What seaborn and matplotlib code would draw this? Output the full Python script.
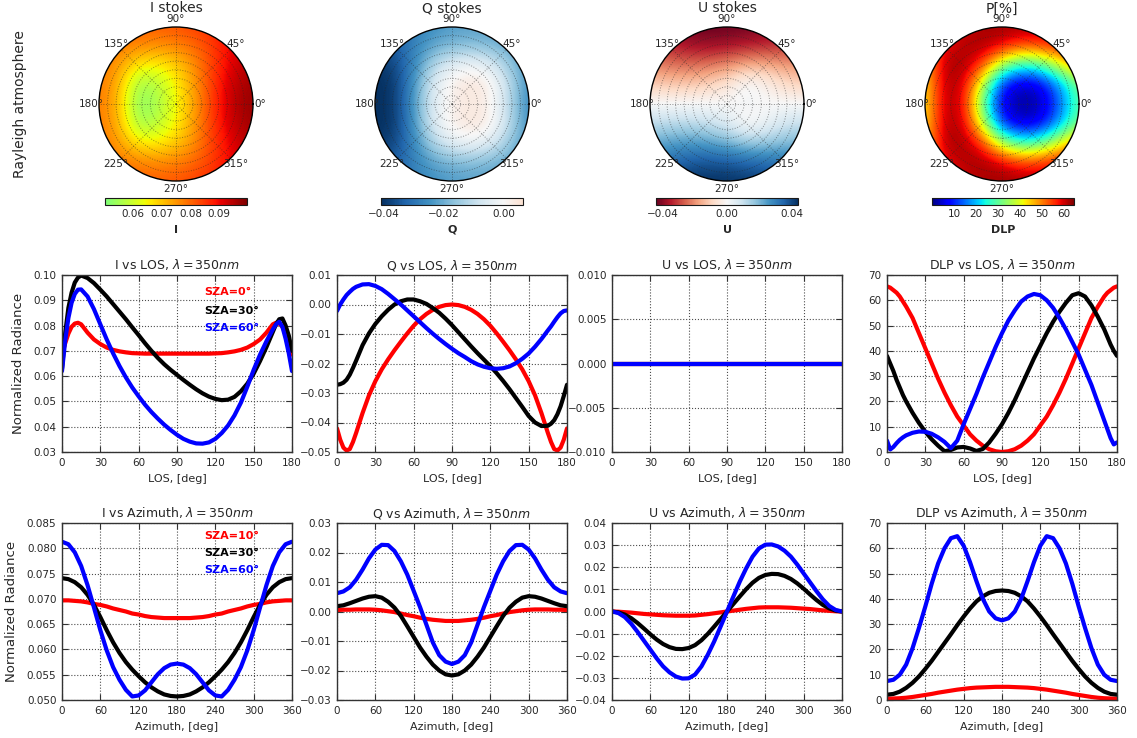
import numpy as np
import matplotlib
matplotlib.use("Agg")
import matplotlib.pyplot as plt
import seaborn as sns
from matplotlib.colors import LinearSegmentedColormap, Normalize
from matplotlib.patches import Circle

# ---------------------------------------------------------------- data
sza_labels_los = ["SZA=0°", "SZA=30°", "SZA=60°"]
sza_labels_az = ["SZA=10°", "SZA=30°", "SZA=60°"]
line_colors = ["#ff0000", "#000000", "#0000ff"]

# line-of-sight angle, degrees
los_deg = [0, 2.5, 5, 7.5, 10, 12.5, 15, 20, 25, 30, 35, 40, 45, 50, 55, 60, 65, 70,
           75, 80, 85, 90, 95, 100, 105, 110, 115, 120, 125, 130, 135, 140, 145, 150,
           155, 160, 165, 167.5, 170, 172.5, 175, 177.5, 180]

i_los_sza0 = [0.0685, 0.0730, 0.0768, 0.0795, 0.0808, 0.0811, 0.0805, 0.0772, 0.0745,
              0.0727, 0.0713, 0.0704, 0.0698, 0.0694, 0.0691, 0.0690, 0.0689, 0.0689,
              0.0689, 0.0689, 0.0689, 0.0689, 0.0689, 0.0689, 0.0689, 0.0689, 0.0689,
              0.0690, 0.0691, 0.0694, 0.0698, 0.0704, 0.0713, 0.0727, 0.0745, 0.0772,
              0.0805, 0.0811, 0.0808, 0.0795, 0.0768, 0.0730, 0.0685]
i_los_sza30 = [0.0630, 0.0770, 0.0870, 0.0930, 0.0970, 0.0990, 0.0998, 0.0988, 0.0968,
               0.0942, 0.0915, 0.0885, 0.0855, 0.0825, 0.0793, 0.0762, 0.0730, 0.0700,
               0.0672, 0.0647, 0.0625, 0.0605, 0.0585, 0.0566, 0.0548, 0.0532, 0.0519,
               0.0510, 0.0505, 0.0507, 0.0518, 0.0540, 0.0570, 0.0610, 0.0660, 0.0715,
               0.0775, 0.0805, 0.0825, 0.0828, 0.0800, 0.0760, 0.0700]
i_los_sza60 = [0.0620, 0.0740, 0.0830, 0.0890, 0.0925, 0.0942, 0.0943, 0.0915, 0.0865,
               0.0805, 0.0745, 0.0690, 0.0640, 0.0595, 0.0555, 0.0520, 0.0487, 0.0458,
               0.0432, 0.0408, 0.0387, 0.0368, 0.0352, 0.0341, 0.0334, 0.0333, 0.0338,
               0.0352, 0.0375, 0.0405, 0.0445, 0.0495, 0.0558, 0.0625, 0.0685, 0.0738,
               0.0785, 0.0805, 0.0815, 0.0795, 0.0748, 0.0690, 0.0620]

q_los_sza0 = [-0.0420, -0.0458, -0.0485, -0.0495, -0.0490, -0.0466, -0.0435, -0.0368,
              -0.0308, -0.0260, -0.0220, -0.0186, -0.0155, -0.0126, -0.0098, -0.0072,
              -0.0050, -0.0032, -0.0018, -0.0008, -0.0002, 0.0000, -0.0002, -0.0008,
              -0.0018, -0.0032, -0.0050, -0.0072, -0.0098, -0.0126, -0.0155, -0.0186,
              -0.0220, -0.0260, -0.0308, -0.0368, -0.0435, -0.0466, -0.0490, -0.0495,
              -0.0485, -0.0458, -0.0420]
q_los_sza30 = [-0.0272, -0.0270, -0.0265, -0.0255, -0.0238, -0.0215, -0.0190, -0.0138,
               -0.0098, -0.0066, -0.0040, -0.0018, 0.0000, 0.0011, 0.0017, 0.0017,
               0.0011, 0.0002, -0.0012, -0.0028, -0.0048, -0.0070, -0.0094, -0.0118,
               -0.0142, -0.0165, -0.0187, -0.0209, -0.0233, -0.0259, -0.0287, -0.0317,
               -0.0347, -0.0378, -0.0400, -0.0412, -0.0411, -0.0404, -0.0392, -0.0372,
               -0.0345, -0.0310, -0.0272]
q_los_sza60 = [-0.0022, 0.0000, 0.0017, 0.0032, 0.0043, 0.0053, 0.0060, 0.0068, 0.0069,
               0.0063, 0.0052, 0.0036, 0.0018, 0.0000, -0.0020, -0.0040, -0.0060,
               -0.0080, -0.0099, -0.0117, -0.0134, -0.0150, -0.0165, -0.0178, -0.0192,
               -0.0203, -0.0211, -0.0216, -0.0218, -0.0216, -0.0210, -0.0199, -0.0184,
               -0.0166, -0.0143, -0.0117, -0.0088, -0.0074, -0.0058, -0.0043, -0.0030,
               -0.0022, -0.0020]

# U is identically zero along the principal plane
u_los_deg = [0, 180]
u_los_sza0 = [0.0, 0.0]
u_los_sza30 = [0.0, 0.0]
u_los_sza60 = [0.0, 0.0]

dlp_los_sza0 = [65.5, 65.0, 64.0, 63.0, 61.5, 59.5, 57.5, 53.0, 47.0, 41.0, 35.0, 29.0,
                23.5, 18.5, 14.0, 10.5, 7.0, 4.5, 2.5, 1.1, 0.3, 0.0, 0.3, 1.1, 2.5, 4.5,
                7.0, 10.5, 14.0, 18.5, 23.5, 29.0, 35.0, 41.0, 47.0, 53.0, 57.5, 59.5,
                61.5, 63.0, 64.0, 65.0, 65.5]
dlp_los_sza30 = [38.0, 35.0, 32.0, 28.5, 25.5, 22.5, 20.0, 15.5, 11.5, 8.0, 5.0, 2.5,
                 0.3, 0.8, 1.8, 2.0, 1.4, 0.4, 1.2, 3.8, 7.2, 11.0, 15.5, 20.5, 26.0,
                 31.5, 37.0, 42.0, 47.0, 51.5, 55.5, 59.0, 62.0, 62.8, 61.5, 58.0, 53.5,
                 51.0, 48.5, 45.5, 42.5, 40.0, 38.0]
dlp_los_sza60 = [4.5, 1.0, 2.0, 3.5, 4.8, 5.8, 6.6, 7.6, 8.1, 8.0, 7.2, 5.8, 4.0, 1.5,
                 4.5, 11.0, 17.0, 23.0, 29.5, 35.5, 41.5, 47.0, 52.0, 56.0, 59.5, 61.5,
                 62.5, 62.0, 60.0, 57.0, 53.0, 48.5, 43.5, 38.5, 32.5, 26.5, 19.5, 16.0,
                 12.5, 9.0, 5.5, 3.0, 3.8]

# relative azimuth, degrees
az_deg = [0, 10, 20, 30, 40, 50, 60, 70, 80, 90, 100, 110, 120, 130, 140, 150, 160, 170,
          180, 190, 200, 210, 220, 230, 240, 250, 260, 270, 280, 290, 300, 310, 320, 330,
          340, 350, 360]

i_az_sza10 = [0.0697, 0.0697, 0.0696, 0.0695, 0.0693, 0.0690, 0.0688, 0.0685, 0.0681,
              0.0678, 0.0675, 0.0671, 0.0669, 0.0666, 0.0664, 0.0663, 0.0662, 0.0662,
              0.0662, 0.0662, 0.0662, 0.0663, 0.0664, 0.0666, 0.0669, 0.0671, 0.0675,
              0.0678, 0.0681, 0.0685, 0.0688, 0.0690, 0.0693, 0.0695, 0.0696, 0.0697,
              0.0697]
i_az_sza30 = [0.0741, 0.0739, 0.0733, 0.0723, 0.0708, 0.0688, 0.0664, 0.0638, 0.0614,
              0.0593, 0.0575, 0.0560, 0.0547, 0.0535, 0.0525, 0.0517, 0.0511, 0.0508,
              0.0507, 0.0508, 0.0511, 0.0517, 0.0525, 0.0535, 0.0547, 0.0560, 0.0575,
              0.0593, 0.0614, 0.0638, 0.0664, 0.0688, 0.0708, 0.0723, 0.0733, 0.0739,
              0.0741]
i_az_sza60 = [0.0813, 0.0808, 0.0792, 0.0765, 0.0727, 0.0683, 0.0638, 0.0598, 0.0565,
              0.0540, 0.0520, 0.0507, 0.0509, 0.0519, 0.0535, 0.0551, 0.0563, 0.0570,
              0.0572, 0.0570, 0.0563, 0.0551, 0.0535, 0.0519, 0.0509, 0.0507, 0.0520,
              0.0540, 0.0565, 0.0598, 0.0638, 0.0683, 0.0727, 0.0765, 0.0792, 0.0808,
              0.0813]

q_az_sza10 = [0.0005, 0.0006, 0.0006, 0.0007, 0.0007, 0.0007, 0.0006, 0.0004, 0.0001,
              -0.0002, -0.0007, -0.0012, -0.0016, -0.0021, -0.0025, -0.0028, -0.0030,
              -0.0032, -0.0032, -0.0032, -0.0030, -0.0028, -0.0025, -0.0021, -0.0016,
              -0.0012, -0.0007, -0.0002, 0.0001, 0.0004, 0.0006, 0.0007, 0.0007, 0.0007,
              0.0006, 0.0006, 0.0005]
q_az_sza30 = [0.0018, 0.0021, 0.0028, 0.0036, 0.0044, 0.0050, 0.0052, 0.0047, 0.0033,
              0.0013, -0.0015, -0.0050, -0.0086, -0.0122, -0.0153, -0.0180, -0.0200,
              -0.0213, -0.0217, -0.0213, -0.0200, -0.0180, -0.0153, -0.0122, -0.0086,
              -0.0050, -0.0015, 0.0013, 0.0033, 0.0047, 0.0052, 0.0050, 0.0044, 0.0036,
              0.0028, 0.0021, 0.0018]
q_az_sza60 = [0.0062, 0.0068, 0.0082, 0.0108, 0.0142, 0.0180, 0.0210, 0.0226, 0.0225,
              0.0205, 0.0170, 0.0125, 0.0070, 0.0015, -0.0045, -0.0105, -0.0148, -0.0170,
              -0.0178, -0.0170, -0.0148, -0.0105, -0.0045, 0.0015, 0.0070, 0.0125,
              0.0170, 0.0205, 0.0225, 0.0226, 0.0210, 0.0180, 0.0142, 0.0108, 0.0082,
              0.0068, 0.0062]

u_az_sza10 = [0.0, -0.0001, -0.0003, -0.0005, -0.0008, -0.0011, -0.0013, -0.0015, -0.0017,
              -0.0018, -0.0019, -0.0019, -0.0019, -0.0018, -0.0015, -0.0012, -0.0008,
              -0.0004, 0.0, 0.0004, 0.0008, 0.0012, 0.0015, 0.0018, 0.0019, 0.0019,
              0.0019, 0.0018, 0.0017, 0.0015, 0.0013, 0.0011, 0.0008, 0.0005, 0.0003,
              0.0001, 0.0]
u_az_sza30 = [0.0, -0.0004, -0.0014, -0.0030, -0.0052, -0.0077, -0.0103, -0.0127, -0.0147,
              -0.0161, -0.0169, -0.0170, -0.0165, -0.0152, -0.0130, -0.0101, -0.0068,
              -0.0034, 0.0, 0.0034, 0.0068, 0.0101, 0.0130, 0.0152, 0.0165, 0.0170,
              0.0169, 0.0161, 0.0147, 0.0127, 0.0103, 0.0077, 0.0052, 0.0030, 0.0014,
              0.0004, 0.0]
u_az_sza60 = [0.0, -0.0007, -0.0025, -0.0055, -0.0092, -0.0132, -0.0172, -0.0212, -0.0248,
              -0.0275, -0.0294, -0.0303, -0.0302, -0.0285, -0.0248, -0.0195, -0.0135,
              -0.0068, 0.0, 0.0068, 0.0135, 0.0195, 0.0248, 0.0285, 0.0302, 0.0303,
              0.0294, 0.0275, 0.0248, 0.0212, 0.0172, 0.0132, 0.0092, 0.0055, 0.0025,
              0.0007, 0.0]

dlp_az_sza10 = [0.5, 0.6, 0.7, 0.9, 1.2, 1.6, 2.0, 2.4, 2.9, 3.3, 3.7, 4.1, 4.4, 4.7, 4.9,
                5.0, 5.1, 5.2, 5.2, 5.2, 5.1, 5.0, 4.9, 4.7, 4.4, 4.1, 3.7, 3.3, 2.9, 2.4,
                2.0, 1.6, 1.2, 0.9, 0.7, 0.6, 0.5]
dlp_az_sza30 = [2.1, 2.4, 3.3, 4.8, 6.8, 9.3, 12.3, 15.5, 19.0, 22.5, 26.0, 29.6, 33.0,
                36.2, 39.0, 41.0, 42.4, 43.1, 43.3, 43.1, 42.4, 41.0, 39.0, 36.2, 33.0,
                29.6, 26.0, 22.5, 19.0, 15.5, 12.3, 9.3, 6.8, 4.8, 3.3, 2.4, 2.1]
dlp_az_sza60 = [7.5, 8.0, 10.0, 14.0, 20.5, 28.5, 37.0, 46.0, 54.0, 60.0, 64.0, 64.8,
                61.0, 54.5, 47.0, 40.0, 35.0, 32.3, 31.5, 32.3, 35.0, 40.0, 47.0, 54.5,
                61.0, 64.8, 64.0, 60.0, 54.0, 46.0, 37.0, 28.5, 20.5, 14.0, 10.0, 8.0, 7.5]

# Sky maps (SZA=30) sampled on a 9x9 grid, x and y from -1 to 1,
# rows listed from top (y=+1) to bottom (y=-1)
i_map = [
    [0.081, 0.081, 0.081, 0.081, 0.082, 0.084, 0.087, 0.091, 0.095],
    [0.079, 0.078, 0.077, 0.076, 0.077, 0.080, 0.085, 0.091, 0.095],
    [0.078, 0.075, 0.066, 0.065, 0.069, 0.076, 0.085, 0.092, 0.096],
    [0.078, 0.073, 0.055, 0.057, 0.065, 0.075, 0.086, 0.094, 0.097],
    [0.078, 0.072, 0.052, 0.055, 0.064, 0.074, 0.086, 0.095, 0.098],
    [0.078, 0.073, 0.055, 0.057, 0.065, 0.075, 0.086, 0.094, 0.097],
    [0.078, 0.075, 0.066, 0.065, 0.069, 0.076, 0.085, 0.092, 0.096],
    [0.079, 0.078, 0.077, 0.076, 0.077, 0.080, 0.085, 0.091, 0.095],
    [0.081, 0.081, 0.081, 0.081, 0.082, 0.084, 0.087, 0.091, 0.095],
]
q_map = [
    [-0.034, -0.032, -0.028, -0.025, -0.023, -0.022, -0.022, -0.023, -0.025],
    [-0.036, -0.034, -0.028, -0.022, -0.019, -0.018, -0.019, -0.021, -0.024],
    [-0.040, -0.038, -0.027, -0.013, -0.004, -0.001, -0.005, -0.016, -0.024],
    [-0.041, -0.040, -0.025, -0.006, 0.003, 0.005, 0.003, -0.011, -0.026],
    [-0.041, -0.040, -0.024, -0.006, 0.002, 0.004, 0.002, -0.012, -0.027],
    [-0.041, -0.040, -0.025, -0.006, 0.003, 0.005, 0.003, -0.011, -0.026],
    [-0.040, -0.038, -0.027, -0.013, -0.004, -0.001, -0.005, -0.016, -0.024],
    [-0.036, -0.034, -0.028, -0.022, -0.019, -0.018, -0.019, -0.021, -0.024],
    [-0.034, -0.032, -0.028, -0.025, -0.023, -0.022, -0.022, -0.023, -0.025],
]
u_map = [
    [-0.036, -0.040, -0.043, -0.044, -0.044, -0.043, -0.041, -0.038, -0.034],
    [-0.030, -0.034, -0.037, -0.038, -0.037, -0.035, -0.034, -0.032, -0.029],
    [-0.022, -0.024, -0.025, -0.024, -0.021, -0.016, -0.016, -0.019, -0.020],
    [-0.011, -0.012, -0.012, -0.010, -0.006, 0.002, -0.002, -0.008, -0.010],
    [0.000, 0.000, 0.000, 0.000, 0.000, 0.001, 0.000, 0.000, 0.000],
    [0.011, 0.012, 0.012, 0.010, 0.006, -0.002, 0.002, 0.008, 0.010],
    [0.022, 0.024, 0.025, 0.024, 0.021, 0.016, 0.016, 0.019, 0.020],
    [0.030, 0.034, 0.037, 0.038, 0.037, 0.035, 0.034, 0.032, 0.029],
    [0.036, 0.040, 0.043, 0.044, 0.044, 0.043, 0.041, 0.038, 0.034],
]
p_map = [
    [55, 57, 60, 62, 63, 63, 62, 60, 58],
    [50, 58, 62, 63, 60, 55, 56, 58, 58],
    [45, 62, 63, 55, 35, 25, 28, 40, 50],
    [43, 62, 61, 38, 10, 4, 6, 18, 32],
    [42, 62, 60, 30, 6, 1, 3, 14, 30],
    [43, 62, 61, 38, 10, 4, 6, 18, 32],
    [45, 62, 63, 55, 35, 25, 28, 40, 50],
    [50, 58, 62, 63, 60, 55, 56, 58, 58],
    [55, 57, 60, 62, 63, 63, 62, 60, 58],
]

map_titles = ["I stokes", "Q stokes", "U stokes", "P[%]"]
map_labels = ["I", "Q", "U", "DLP"]
map_limits = [(0.0502, 0.0997), (-0.041, 0.0064), (-0.044, 0.044), (0.0, 64.8)]
map_ticks = [[0.06, 0.07, 0.08, 0.09], [-0.04, -0.02, 0.00], [-0.04, 0.00, 0.04],
             [10, 20, 30, 40, 50, 60]]
theta_ticks = [0, 45, 90, 135, 180, 225, 270, 315]

# ---------------------------------------------------------------- style
sns.set_style("ticks")
plt.rcParams.update({
    "font.family": ["DejaVu Sans"],
    "mathtext.fontset": "dejavusans",
    "text.color": "0.15",
    "axes.labelcolor": "0.15",
    "axes.edgecolor": "0.2",
    "axes.linewidth": 1.0,
    "xtick.color": "0.2", "ytick.color": "0.2",
    "xtick.labelcolor": "0.15", "ytick.labelcolor": "0.15",
    "xtick.direction": "in", "ytick.direction": "in",
    "xtick.bottom": True, "ytick.left": True,
    "xtick.top": True, "ytick.right": True,
    "xtick.major.size": 4, "ytick.major.size": 4,
    "xtick.major.pad": 4, "ytick.major.pad": 4,
    "xtick.labelsize": 7.5, "ytick.labelsize": 7.5,
    "grid.color": "0.3", "grid.linestyle": ":", "grid.linewidth": 0.8,
})

W, H = 1137, 738
fig = plt.figure(figsize=(W / 100, H / 100), dpi=100)
fig.patch.set_facecolor("white")


def px_rect(left, top, width, height):
    return [left / W, 1 - (top + height) / H, width / W, height / H]


# ---------------------------------------------------------------- sky maps
jet = plt.get_cmap("jet")
rdbu = plt.get_cmap("RdBu")
rdbu_r = plt.get_cmap("RdBu_r")
cmap_i = LinearSegmentedColormap.from_list("jet_upper", jet(np.linspace(0.5, 1.0, 256)))
cmap_q = LinearSegmentedColormap.from_list("rdbu_low", rdbu_r(np.linspace(0.0, 0.578, 256)))
map_cmaps = [cmap_i, cmap_q, rdbu, jet]
map_grids = [i_map, q_map, u_map, p_map]

centers_x = [176, 452, 727, 1002]
center_y, radius = 104, 77
cbar_left = [105, 381, 656, 932]

for k in range(4):
    cx = centers_x[k]
    box = px_rect(cx - radius, center_y - radius, 2 * radius, 2 * radius)

    ax_img = fig.add_axes(box, zorder=1)
    im = ax_img.imshow(np.array(map_grids[k], dtype=float), cmap=map_cmaps[k],
                       norm=Normalize(*map_limits[k]), interpolation="bicubic",
                       extent=(-1.125, 1.125, -1.125, 1.125), origin="upper",
                       aspect="auto")
    ax_img.set_xlim(-1, 1)
    ax_img.set_ylim(-1, 1)
    ax_img.axis("off")
    im.set_clip_path(Circle((0, 0), 1, transform=ax_img.transData))

    ax_pol = fig.add_axes(box, projection="polar", zorder=2)
    ax_pol.patch.set_alpha(0)
    ax_pol.set_ylim(0, 90)
    ax_pol.set_xticks(np.deg2rad(theta_ticks))
    ax_pol.set_xticklabels([])
    ax_pol.set_yticks(range(10, 90, 10))
    ax_pol.set_yticklabels([])
    ax_pol.tick_params(length=0)
    ax_pol.grid(True, color="0.15", linestyle=":", linewidth=0.7, alpha=0.5)
    ax_pol.spines["polar"].set_color("k")
    ax_pol.spines["polar"].set_linewidth(1.0)
    for ang in theta_ticks:
        ax_pol.text(np.deg2rad(ang), 99, f"{ang}°", ha="center", va="center",
                    fontsize=7.5, clip_on=False)

    fig.text(cx / W, 1 - 12.5 / H, map_titles[k], ha="center", va="baseline",
             fontsize=10)

    cax = fig.add_axes(px_rect(cbar_left[k], 198, 142, 7))
    cb = fig.colorbar(im, cax=cax, orientation="horizontal", ticks=map_ticks[k])
    cb.ax.tick_params(direction="in", length=5, width=0.8, labelsize=7.5, pad=3,
                      top=False)
    cb.outline.set_linewidth(0.8)
    cb.outline.set_edgecolor("0.1")
    cb.set_label(map_labels[k], fontsize=8, fontweight="bold", labelpad=4)

fig.text(20 / W, 1 - 104 / H, "Rayleigh atmosphere", rotation=90, ha="center",
         va="center", fontsize=10)

# ---------------------------------------------------------------- line panels
col_left = [62, 337, 612, 887]
row_top = [275, 523]
panel_w, panel_h = 230, 177

los_rows = [
    ("I vs LOS", los_deg, [i_los_sza0, i_los_sza30, i_los_sza60], (0.03, 0.10),
     np.arange(0.03, 0.1001, 0.01)),
    ("Q vs LOS", los_deg, [q_los_sza0, q_los_sza30, q_los_sza60], (-0.05, 0.01),
     np.arange(-0.05, 0.0101, 0.01)),
    ("U vs LOS", u_los_deg, [u_los_sza0, u_los_sza30, u_los_sza60], (-0.010, 0.010),
     np.arange(-0.010, 0.0101, 0.005)),
    ("DLP vs LOS", los_deg, [dlp_los_sza0, dlp_los_sza30, dlp_los_sza60], (0, 70),
     np.arange(0, 71, 10)),
]
az_rows = [
    ("I vs Azimuth", az_deg, [i_az_sza10, i_az_sza30, i_az_sza60], (0.050, 0.085),
     np.arange(0.050, 0.0851, 0.005)),
    ("Q vs Azimuth", az_deg, [q_az_sza10, q_az_sza30, q_az_sza60], (-0.03, 0.03),
     np.arange(-0.03, 0.0301, 0.01)),
    ("U vs Azimuth", az_deg, [u_az_sza10, u_az_sza30, u_az_sza60], (-0.04, 0.04),
     np.arange(-0.04, 0.0401, 0.01)),
    ("DLP vs Azimuth", az_deg, [dlp_az_sza10, dlp_az_sza30, dlp_az_sza60], (0, 70),
     np.arange(0, 71, 10)),
]

for r, (rows, xmax, xstep, xlabel, names) in enumerate([
        (los_rows, 180, 30, "LOS, [deg]", sza_labels_los),
        (az_rows, 360, 60, "Azimuth, [deg]", sza_labels_az)]):
    for c, (title, xs, series, ylim, yticks) in enumerate(rows):
        ax = fig.add_axes(px_rect(col_left[c], row_top[r], panel_w, panel_h))
        for ys, color in zip(series, line_colors):
            sns.lineplot(x=xs, y=ys, ax=ax, color=color, linewidth=3, legend=False)
        ax.set_xlim(0, xmax)
        ax.set_ylim(*ylim)
        ax.set_xticks(np.arange(0, xmax + 1, xstep))
        ax.set_yticks(yticks)
        ax.grid(True)
        ax.set_title(title + r", $\lambda=350nm$", fontsize=9, pad=4)
        ax.set_xlabel(xlabel, fontsize=8, labelpad=5)
        if c == 0:
            ax.set_ylabel("Normalized Radiance", fontsize=9.5, labelpad=6)
            ypos = [0.902, 0.797, 0.702] if r == 0 else [0.928, 0.832, 0.734]
            for name, color, yp in zip(names, line_colors, ypos):
                ax.text(0.62, yp, name, color=color, fontsize=8, fontweight="bold",
                        transform=ax.transAxes, ha="left", va="center")
        for side in ax.spines.values():
            side.set_linewidth(1.0)

fig.savefig("out.png", dpi=100)
